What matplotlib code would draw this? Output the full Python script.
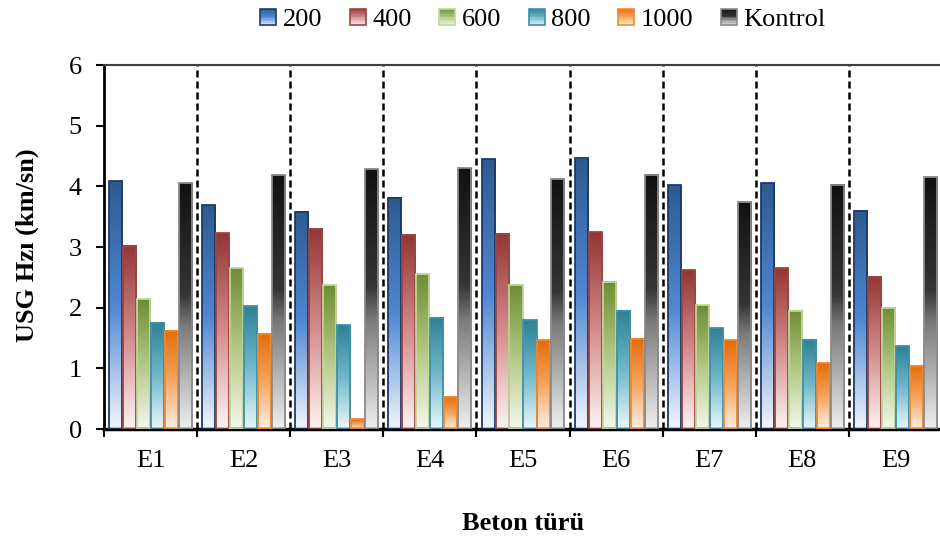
import numpy as np
import matplotlib
matplotlib.use('Agg')
import matplotlib.pyplot as plt
from matplotlib.colors import LinearSegmentedColormap
from matplotlib.patches import Rectangle, Patch
from matplotlib.legend_handler import HandlerBase

plt.rcParams['font.family'] = ['Liberation Serif', 'DejaVu Serif']

# veriler
gruplar = ['E1', 'E2', 'E3', 'E4', 'E5', 'E6', 'E7', 'E8', 'E9']
seriler = ['200', '400', '600', '800', '1000', 'Kontrol']
v200 = [4.08, 3.69, 3.58, 3.81, 4.45, 4.46, 4.02, 4.05, 3.60]
v400 = [3.02, 3.23, 3.30, 3.20, 3.22, 3.24, 2.62, 2.65, 2.51]
v600 = [2.14, 2.65, 2.37, 2.55, 2.38, 2.43, 2.04, 1.95, 2.00]
v800 = [1.75, 2.02, 1.71, 1.83, 1.79, 1.95, 1.66, 1.47, 1.36]
v1000 = [1.62, 1.57, 0.16, 0.53, 1.46, 1.49, 1.46, 1.08, 1.04]
vkontrol = [4.05, 4.18, 4.28, 4.30, 4.12, 4.19, 3.74, 4.03, 4.15]
degerler = [v200, v400, v600, v800, v1000, vkontrol]

# renk gecisleri (alt -> ust)
renkler = [
    [(0, '#F2F6FC'), (0.5, '#4E87D2'), (1, '#2E5A90')],
    [(0, '#FDF4F4'), (0.5, '#D48C8B'), (1, '#923634')],
    [(0, '#F5F8ED'), (0.5, '#B2C883'), (1, '#6E8D35')],
    [(0, '#EAF7FB'), (0.5, '#70B8CA'), (1, '#2F8096')],
    [(0, '#FEF0E3'), (0.5, '#F5A45E'), (1, '#E36C09')],
    [(0, '#EFEFEF'), (0.42, '#7A7A7A'), (0.55, '#353535'), (1, '#111111')],
]
kenarlar = ['#1F3A63', '#9B4543', '#C3D69B', '#3F8FA5', '#F08A30', '#8A8A8A']
cmaps = [LinearSegmentedColormap.from_list('c%d' % i, r) for i, r in enumerate(renkler)]


class GradyanHandler(HandlerBase):
    def __init__(self, cmap, kenar):
        super().__init__()
        self.cmap = cmap
        self.kenar = kenar

    def create_artists(self, legend, orig_handle, xdescent, ydescent,
                       width, height, fontsize, trans):
        n = 12
        parcalar = []
        for k in range(n):
            r = Rectangle((-xdescent, -ydescent + height * k / n), width, height / n,
                          facecolor=self.cmap((k + 0.5) / n), edgecolor='none',
                          transform=trans)
            parcalar.append(r)
        parcalar.append(Rectangle((-xdescent, -ydescent), width, height, facecolor='none',
                                  edgecolor=self.kenar, lw=1.2, transform=trans))
        return parcalar


fig = plt.figure(figsize=(9.4, 5.43), dpi=100)
ax = fig.add_axes([104 / 940, 1 - 429 / 543, 838 / 940, 364 / 543])

gradyan = np.linspace(0, 1, 256).reshape(-1, 1)
genislik = 0.14
adim = 0.15
bosluk = 0.055
for j in range(len(seriler)):
    for i, h in enumerate(degerler[j]):
        x0 = i + bosluk + j * adim
        ax.imshow(gradyan, extent=[x0, x0 + genislik, 0, h], origin='lower',
                  aspect='auto', cmap=cmaps[j], zorder=2, interpolation='bilinear')
        ax.add_patch(Rectangle((x0, 0), genislik, h, facecolor='none',
                               edgecolor=kenarlar[j], lw=1.3, zorder=3))

# gruplar arasi kesikli cizgiler
ax.vlines(np.arange(1, 9), 0, 6, colors='black', linestyles=(0, (2.8, 1.6)),
          lw=1.8, zorder=1)

ax.set_xlim(0, 9)
ax.set_ylim(0, 6)
ax.set_yticks(range(7))
ax.set_xticks(np.arange(0, 10))
ax.set_xticklabels([])
ax.set_xticks(np.arange(9) + 0.5, minor=True)
ax.set_xticklabels(gruplar, minor=True)
ax.tick_params(axis='x', which='major', direction='out', length=6, width=1.5)
ax.tick_params(axis='x', which='minor', length=0, pad=15, labelsize=19)
ax.tick_params(axis='y', direction='out', length=6, width=1.5, labelsize=19, pad=10)

ax.spines['left'].set_linewidth(2)
ax.spines['bottom'].set_linewidth(2.5)
ax.spines['top'].set_linewidth(1.5)
ax.spines['top'].set_color('#404040')
ax.spines['right'].set_visible(False)

ax.set_ylabel('USG Hzı (km/sn)', fontsize=19, fontweight='bold', va='center')
ax.yaxis.set_label_coords((27 - 104) / 838, (429 - 245.5) / 364)
ax.set_xlabel('Beton türü', fontsize=19, fontweight='bold', va='center')
ax.xaxis.set_label_coords(0.5, -(524 - 429) / 364)

tutamaclar = [Patch(label=s) for s in seriler]
hmap = {p: GradyanHandler(cmaps[k], kenarlar[k]) for k, p in enumerate(tutamaclar)}
fig.legend(handles=tutamaclar, handler_map=hmap, loc='center', ncol=6,
           bbox_to_anchor=(543 / 940, 1 - 20 / 543), frameon=False, fontsize=19,
           handlelength=0.6, handleheight=0.6, handletextpad=0.25, columnspacing=1.05)

fig.savefig('out.png', dpi=100)
